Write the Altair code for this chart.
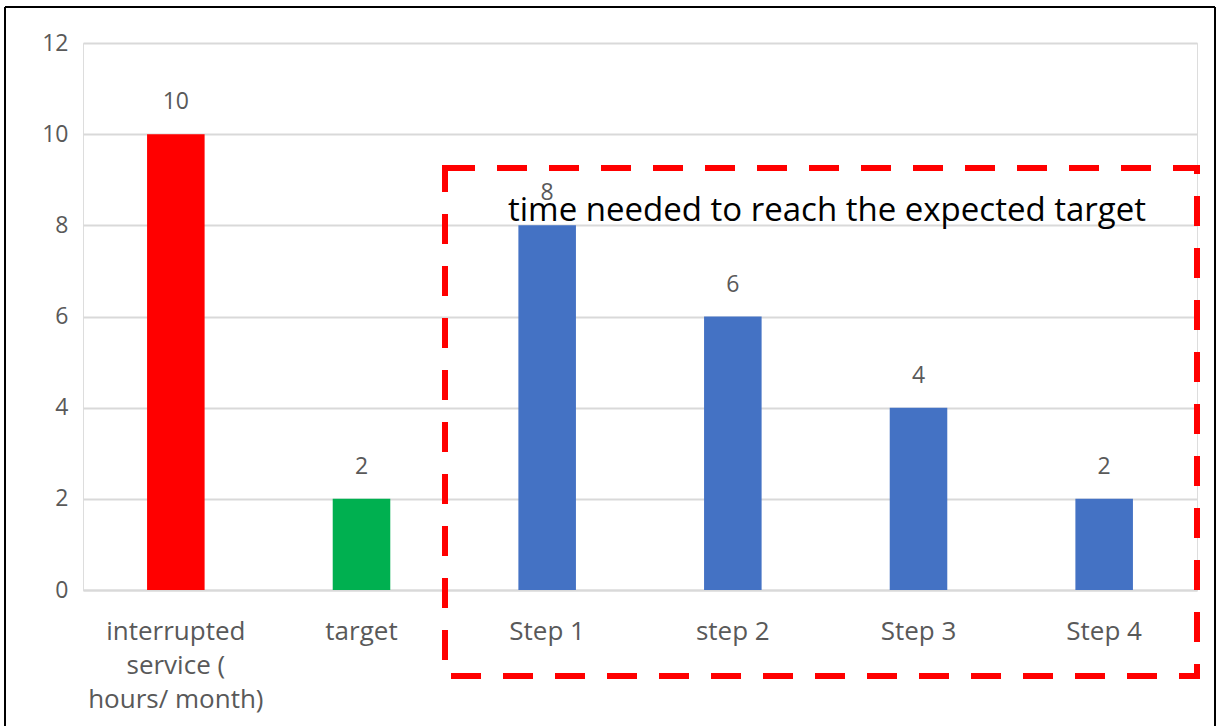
import altair as alt
import pandas as pd

categories = ["interrupted service ( hours/ month)", "target", "Step 1", "step 2", "Step 3", "Step 4"]
values = [10, 2, 8, 6, 4, 2]
colors = ["#FF0000", "#00B050", "#4472C4", "#4472C4", "#4472C4", "#4472C4"]
box_label = "time needed to reach the expected target"

df = pd.DataFrame({"cat": categories, "val": values, "color": colors})

W, H = 1114, 547
FONT = "Open Sans"
GREY = "#595959"

x_enc = alt.X("cat:N", sort=categories, title=None,
              scale=alt.Scale(paddingInner=0.69, paddingOuter=0.345),
              axis=alt.Axis(labelAngle=0, labelFont=FONT, labelFontSize=26, labelColor=GREY,
                            labelPadding=28, labelLineHeight=34, ticks=False,
                            domainColor="#D9D9D9", domainWidth=2, labelBaseline="top",
                            labelExpr="datum.value == 'interrupted service ( hours/ month)' ? ['interrupted', 'service (', 'hours/ month)'] : datum.value"))
y_enc = alt.Y("val:Q", title=None,
              scale=alt.Scale(domain=[0, 12], nice=False),
              axis=alt.Axis(values=[0, 2, 4, 6, 8, 10, 12], domain=False, ticks=False,
                            labelFont=FONT, labelFontSize=23, labelColor=GREY, labelPadding=15,
                            gridColor="#D9D9D9", gridWidth=2))

base = alt.Chart(df)
bars = base.mark_bar().encode(x=x_enc, y=y_enc, color=alt.Color("color:N", scale=None))
labels = base.mark_text(font=FONT, fontSize=23, color=GREY, baseline="middle", dy=-32).encode(
    x=alt.X("cat:N", sort=categories), y="val:Q", text="val:Q")

box = alt.Chart(pd.DataFrame({"t": [box_label]})).mark_rect(
    fill=None, stroke="#FF0000", strokeWidth=6, strokeDash=[30, 22], clip=False
).encode(x=alt.value(362), x2=alt.value(1114), y=alt.value(125), y2=alt.value(633))

box_text = alt.Chart(pd.DataFrame({"t": [box_label]})).mark_text(
    font=FONT, fontSize=33, color="#000000", baseline="middle", align="center"
).encode(x=alt.value(744), y=alt.value(168), text="t:N")

frame_top = alt.Chart(pd.DataFrame({"a": [0]})).mark_rule(color="#000000", strokeWidth=2, clip=False).encode(
    x=alt.value(-78), x2=alt.value(1132), y=alt.value(-36))
frame_left = alt.Chart(pd.DataFrame({"a": [0]})).mark_rule(color="#000000", strokeWidth=2, clip=False).encode(
    x=alt.value(-78), y=alt.value(-36), y2=alt.value(700))
frame_right = alt.Chart(pd.DataFrame({"a": [0]})).mark_rule(color="#000000", strokeWidth=2, clip=False).encode(
    x=alt.value(1132), y=alt.value(-36), y2=alt.value(700))

chart = alt.layer(bars, labels, box, box_text, frame_top, frame_left, frame_right).properties(
    width=W, height=H,
    autosize=alt.AutoSizeParams(type="none"),
    padding={"left": 83, "top": 43, "right": 22, "bottom": 136},
).configure_view(stroke=None).configure(background="white")

chart.save("out.html", embed_options={"renderer": "svg", "actions": False})
